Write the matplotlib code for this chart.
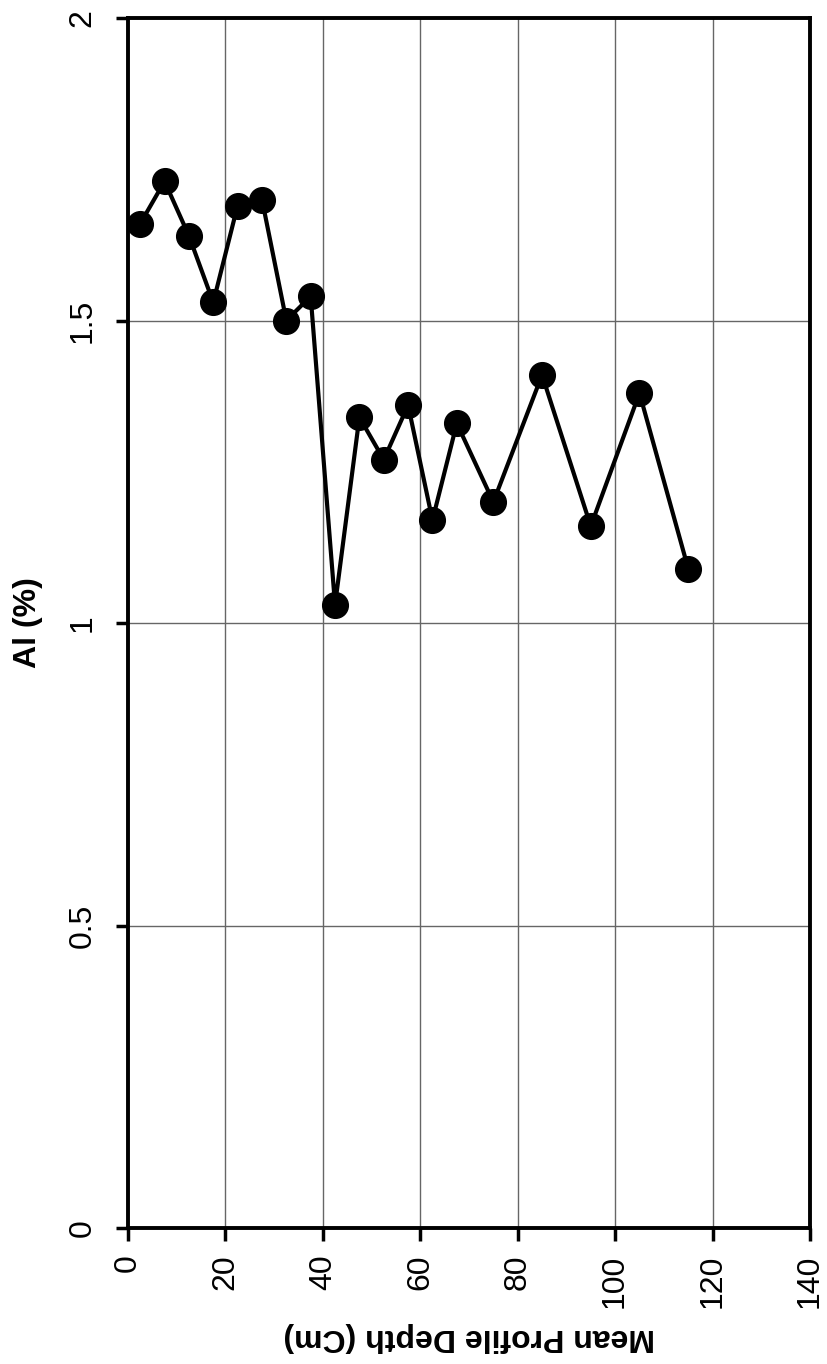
import matplotlib.pyplot as plt

plt.rcParams['font.family'] = ['Liberation Sans', 'DejaVu Sans']

# Profundidad media (cm) y contenido de Al (%)
depth = [2.5, 7.5, 12.5, 17.5, 22.5, 27.5, 32.5, 37.5, 42.5, 47.5,
         52.5, 57.5, 62.5, 67.5, 75, 85, 95, 105, 115]
al_pct = [1.66, 1.73, 1.64, 1.53, 1.69, 1.70, 1.50, 1.54, 1.03, 1.34,
          1.27, 1.36, 1.17, 1.33, 1.20, 1.41, 1.16, 1.38, 1.09]

x_ticks = [0, 20, 40, 60, 80, 100, 120, 140]
y_ticks = [0, 0.5, 1, 1.5, 2]
y_tick_labels = ['0', '0.5', '1', '1.5', '2']

fig = plt.figure(figsize=(8.27, 13.64), dpi=100)
ax = fig.add_axes([0.1548, 0.0997, 0.8246, 0.8871])

ax.plot(depth, al_pct, color='black', linewidth=3, marker='o',
        markersize=18.5, markerfacecolor='black', markeredgecolor='black')

ax.set_xlim(0, 140)
ax.set_ylim(0, 2)
ax.set_xticks(x_ticks)
ax.set_yticks(y_ticks)
ax.set_yticklabels(y_tick_labels)

ax.grid(True, color='0.4', linewidth=1)
ax.set_axisbelow(True)

for s in ax.spines.values():
    s.set_linewidth(2.8)
    s.set_color('black')

ax.tick_params(axis='x', direction='out', length=9, width=2.5, labelsize=23,
               labelrotation=90, pad=10)
ax.tick_params(axis='y', direction='out', length=9, width=2.5, labelsize=23,
               labelrotation=90, pad=13)
for lbl in ax.get_yticklabels():
    lbl.set_verticalalignment('center')

ax.set_xlabel('Mean Profile Depth (Cm)', fontsize=23, fontweight='bold',
              rotation=180, va='center')
ax.xaxis.set_label_coords(0.5, -0.090)
ax.set_ylabel('Al (%)', fontsize=23, fontweight='bold', va='center')
ax.yaxis.set_label_coords(-0.147, 0.5)

fig.savefig('out.png', dpi=100)
